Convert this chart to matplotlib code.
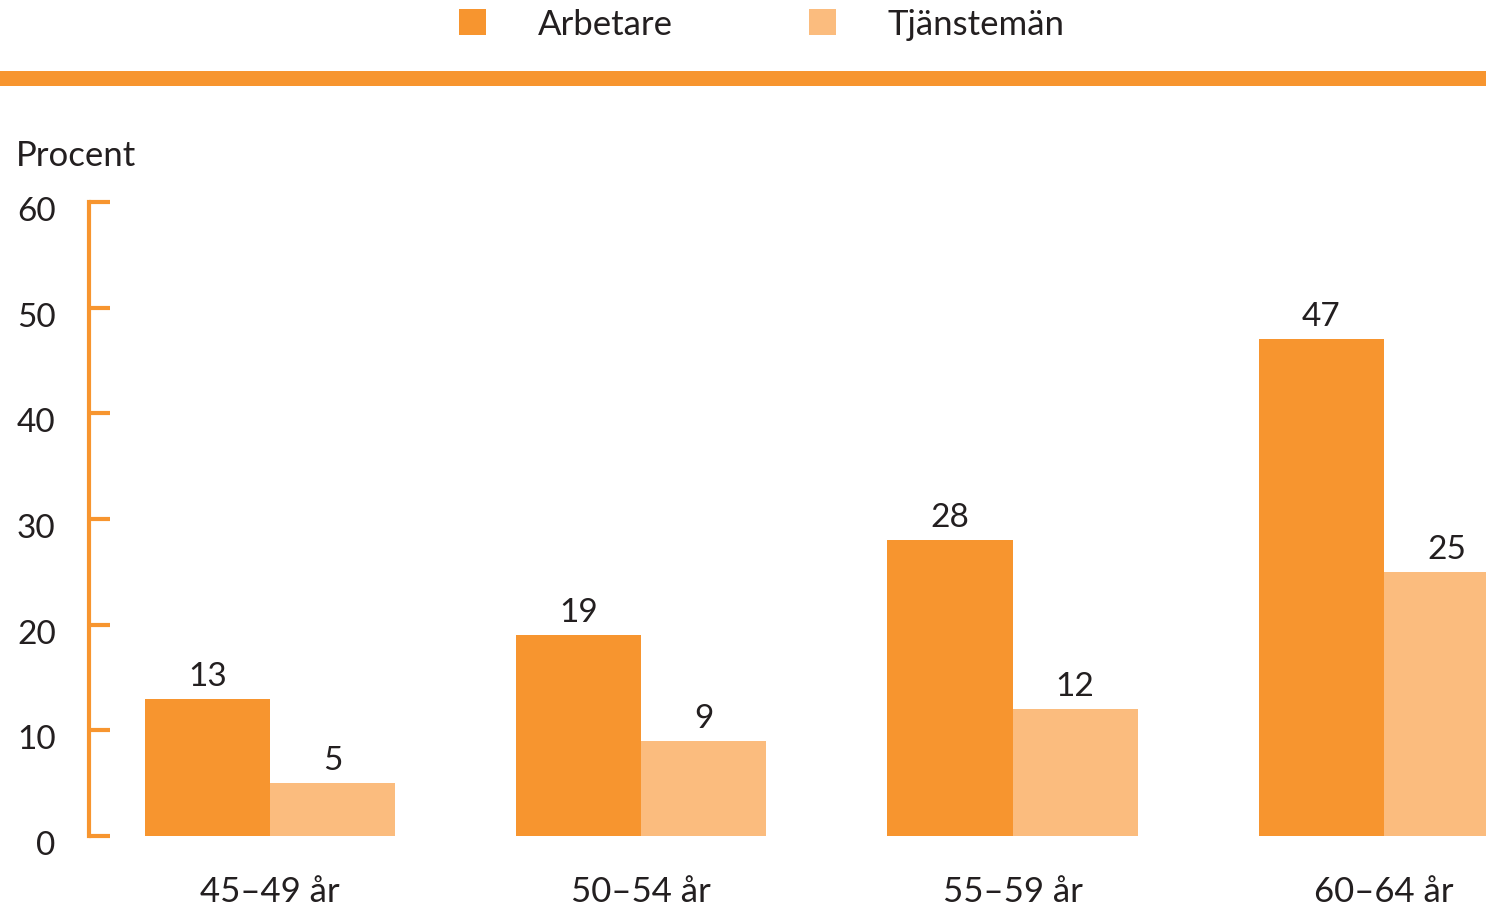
import numpy as np
import matplotlib.pyplot as plt
from matplotlib.patches import Rectangle
import matplotlib.transforms as mtransforms

plt.rcParams['font.family'] = ['Lato', 'DejaVu Sans']

groups = ['45–49 år', '50–54 år', '55–59 år', '60–64 år']
arbetare = [13, 19, 28, 47]
tjanstemen = [5, 9, 12, 25]
yticks = [0, 10, 20, 30, 40, 50, 60]

dark = '#F7952F'
light = '#FBBC7E'
txt = '#231F20'

W, H = 1486, 912
fig = plt.figure(figsize=(W / 100, H / 100), dpi=100)

# axes spans full width; bottom at y=837px, top (60) at y=203px
ax = fig.add_axes([0, (H - 837) / H, 1, (837 - 203) / H])
x = np.arange(len(groups))
w = 0.337
ax.bar(x - w / 2, arbetare, w, color=dark, label='Arbetare')
ax.bar(x + w / 2, tjanstemen, w, color=light, label='Tjänstemän')

for i in range(len(groups)):
    ax.text(x[i] - w / 2, arbetare[i] + 0.75, str(arbetare[i]), ha='center', va='bottom',
            fontsize=24, color=txt)
    ax.text(x[i] + w / 2, tjanstemen[i] + 0.75, str(tjanstemen[i]), ha='center', va='bottom',
            fontsize=24, color=txt)

ax.set_xlim((0 - 270) / 371.3, (W - 270) / 371.3)
ax.set_ylim(0, 60)

for s in ['top', 'right', 'bottom']:
    ax.spines[s].set_visible(False)
ax.spines['left'].set_position(('data', (89 - 270) / 371.3))
ax.spines['left'].set_bounds(0, 60)
ax.spines['left'].set_color(dark)
ax.spines['left'].set_linewidth(3)
ax.spines['left'].set_capstyle('projecting')

ax.set_yticks(yticks)
ax.tick_params(axis='y', direction='in', length=15, width=3, color=dark,
               labelsize=24, labelcolor=txt, pad=24)
off = mtransforms.ScaledTranslation(0, -6 / 100, fig.dpi_scale_trans)
for lab in ax.get_yticklabels():
    lab.set_transform(lab.get_transform() + off)

ax.set_xticks(x)
ax.set_xticklabels(groups)
ax.tick_params(axis='x', length=0, labelsize=25, labelcolor=txt, pad=28)

fig.text(16 / W, 1 - 156 / H, 'Procent', fontsize=25, color=txt, va='center', ha='left')

# orange band under the legend
fig.add_artist(Rectangle((0, 1 - 87 / H), 1, 15 / H, transform=fig.transFigure,
                         color=dark, lw=0))

# legend
handles, labels = ax.get_legend_handles_labels()
fig.legend(handles, labels, loc='center', bbox_to_anchor=(762 / W, 1 - 25 / H),
           ncol=2, frameon=False, fontsize=25, handlelength=0.78, handleheight=0.78,
           handletextpad=1.5, columnspacing=3.9, labelcolor=txt)

fig.savefig('out.png', dpi=100)
